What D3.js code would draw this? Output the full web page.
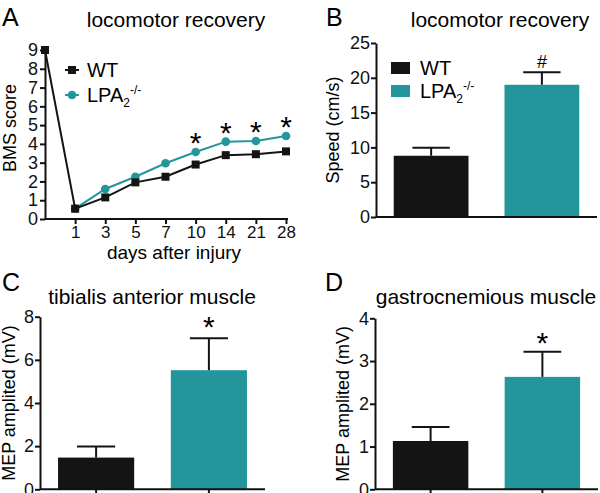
<!DOCTYPE html>
<html>
<head>
<meta charset="utf-8">
<script src="https://cdnjs.cloudflare.com/ajax/libs/d3/7.8.5/d3.min.js"></script>
<style>
  body { margin: 0; background: white; }
  svg { font-family: "Liberation Sans", Arial, sans-serif; }
  .axis path, .axis line { stroke: #111; stroke-width: 2px; }
  .axis text { fill: #111; }
</style>
</head>
<body>
<div id="chart"></div>
<script>
// panel A: BMS score over time
const days = ["0", "1", "3", "5", "7", "10", "14", "21", "28"];
const bmsWT = [9, 0.55, 1.15, 1.95, 2.25, 2.9, 3.4, 3.45, 3.6];
const bmsWTerr = [0, 0.08, 0.15, 0.12, 0.18, 0.15, 0.12, 0.12, 0.12];
const bmsLPA = [9, 0.55, 1.6, 2.25, 2.97, 3.57, 4.12, 4.15, 4.42];
const bmsLPAerr = [0, 0.08, 0.12, 0.12, 0.2, 0.12, 0.12, 0.1, 0.1];
const bmsStars = ["10", "14", "21", "28"];
const bmsTicks = [0, 1, 2, 3, 4, 5, 6, 7, 8, 9];

// panels B-D: two groups each
const groups = ["WT", "LPA"];
const speedMean = [8.8, 19.0];
const speedErr = [1.15, 1.8];
const tibialisMean = [1.47, 5.52];
const tibialisErr = [0.51, 1.48];
const gastroMean = [1.13, 2.63];
const gastroErr = [0.33, 0.59];

const black = "#141414";
const teal = "#22969a";
const colors = [black, teal];

const svg = d3.select("#chart").append("svg")
  .attr("width", 600).attr("height", 493);

// ---------- panel A ----------
const xA = d3.scalePoint().domain(days).range([45, 286]);
const yA = d3.scaleLinear().domain([0, 9]).range([219, 50]);

svg.append("text").attr("x", 2).attr("y", 26).style("font-size", "25px").text("A");
svg.append("text").attr("x", 176).attr("y", 27).attr("text-anchor", "middle")
  .style("font-size", "21px").text("locomotor recovery");

svg.append("g").attr("class", "axis")
  .attr("transform", "translate(45,0)")
  .call(d3.axisLeft(yA).tickValues(bmsTicks).tickSize(5).tickSizeOuter(0).tickPadding(2))
  .selectAll("text").style("font-size", "18px");

const xAxisA = svg.append("g").attr("class", "axis")
  .attr("transform", "translate(0,219)")
  .call(d3.axisBottom(xA).tickValues(days.slice(1)).tickSize(5).tickSizeOuter(0).tickPadding(2));
xAxisA.select(".domain").attr("d", "M45,0H288");
xAxisA.selectAll("text").style("font-size", "17px");

svg.append("text").attr("x", 174).attr("y", 259).attr("text-anchor", "middle")
  .style("font-size", "19px").text("days after injury");

svg.append("text").attr("x", 10).attr("y", 128)
  .attr("transform", "rotate(-90,10,128)").attr("text-anchor", "middle")
  .attr("dy", "0.35em").style("font-size", "18px").text("BMS score");

function drawSeries(vals, errs, color, shape, start) {
  const pts = vals.map((v, i) => ({ day: days[i], v, e: errs[i] })).slice(start);
  const g = svg.append("g");
  g.selectAll("line").data(pts).join("line")
    .attr("x1", d => xA(d.day)).attr("x2", d => xA(d.day))
    .attr("y1", d => yA(d.v - d.e)).attr("y2", d => yA(d.v + d.e))
    .attr("stroke", color).attr("stroke-width", 2);
  g.append("path").datum(pts)
    .attr("d", d3.line().x(d => xA(d.day)).y(d => yA(d.v)))
    .attr("fill", "none").attr("stroke", color).attr("stroke-width", 2);
  if (shape === "square") {
    g.selectAll("rect").data(pts).join("rect")
      .attr("x", d => xA(d.day) - 4).attr("y", d => yA(d.v) - 4)
      .attr("width", 8).attr("height", 8).attr("fill", color);
  } else {
    g.selectAll("circle").data(pts).join("circle")
      .attr("cx", d => xA(d.day)).attr("cy", d => yA(d.v))
      .attr("r", 4.3).attr("fill", color);
  }
}
drawSeries(bmsLPA, bmsLPAerr, teal, "circle", 1);
drawSeries(bmsWT, bmsWTerr, black, "square", 0);

svg.selectAll("text.star").data(bmsStars).join("text").attr("class", "star")
  .attr("x", d => xA(d)).attr("text-anchor", "middle")
  .attr("y", d => { const i = days.indexOf(d); return yA(bmsLPA[i]) + 1; })
  .style("font-size", "30px").text("*");

// legend A
const legA = [{ label: "WT", color: black, shape: "square" }, { label: "LPA", color: teal, shape: "circle" }];
legA.forEach((d, i) => {
  const y = 70 + i * 25;
  svg.append("line").attr("x1", 65).attr("x2", 79).attr("y1", y).attr("y2", y)
    .attr("stroke", d.color).attr("stroke-width", 2);
  if (d.shape === "square") {
    svg.append("rect").attr("x", 68).attr("y", y - 4).attr("width", 8).attr("height", 8).attr("fill", d.color);
  } else {
    svg.append("circle").attr("cx", 72).attr("cy", y).attr("r", 4.3).attr("fill", d.color);
  }
  const t = svg.append("text").attr("x", 87).attr("y", y + 7).style("font-size", "20px");
  if (d.label === "WT") t.text("WT");
  else {
    t.append("tspan").text("LPA");
    t.append("tspan").attr("dy", 5).style("font-size", "12px").text("2");
    t.append("tspan").attr("dy", -13).style("font-size", "12px").text("-/-");
  }
});

// ---------- bar panels ----------
function barPanel(opt) {
  const x = d3.scaleBand().domain(groups).range([opt.x0, opt.x1])
    .paddingInner(0.325).paddingOuter(0.16);
  const y = d3.scaleLinear().domain([0, opt.max]).range([opt.yb, opt.yt]);

  svg.append("text").attr("x", opt.letterX).attr("y", opt.letterY)
    .style("font-size", "25px").text(opt.letter);
  svg.append("text").attr("x", opt.titleX).attr("y", opt.titleY).attr("text-anchor", "middle")
    .style("font-size", "21px").text(opt.title);

  svg.append("g").selectAll("rect").data(opt.mean).join("rect")
    .attr("x", (d, i) => x(groups[i])).attr("width", x.bandwidth())
    .attr("y", d => y(d)).attr("height", d => y(0) - y(d))
    .attr("fill", (d, i) => colors[i]);

  const eg = svg.append("g");
  eg.selectAll("line.v").data(opt.mean).join("line").attr("class", "v")
    .attr("x1", (d, i) => x(groups[i]) + x.bandwidth() / 2)
    .attr("x2", (d, i) => x(groups[i]) + x.bandwidth() / 2)
    .attr("y1", d => y(d)).attr("y2", (d, i) => y(d + opt.err[i]))
    .attr("stroke", black).attr("stroke-width", 2);
  eg.selectAll("line.c").data(opt.mean).join("line").attr("class", "c")
    .attr("x1", (d, i) => x(groups[i]) + x.bandwidth() / 4)
    .attr("x2", (d, i) => x(groups[i]) + x.bandwidth() * 3 / 4)
    .attr("y1", (d, i) => y(d + opt.err[i])).attr("y2", (d, i) => y(d + opt.err[i]))
    .attr("stroke", black).attr("stroke-width", 2);

  svg.append("g").attr("class", "axis")
    .attr("transform", `translate(${opt.x0},0)`)
    .call(d3.axisLeft(y).ticks(opt.ticks).tickSize(5).tickSizeOuter(0).tickPadding(1))
    .selectAll("text").style("font-size", "18px");

  const xa = svg.append("g").attr("class", "axis")
    .attr("transform", `translate(0,${opt.yb})`)
    .call(d3.axisBottom(x).tickSize(opt.xTicks ? 4 : 0).tickSizeOuter(0).tickFormat(""));
  xa.select(".domain").attr("d", `M${opt.x0},0H${opt.x1}`);

  svg.append("text").attr("x", opt.labelX).attr("y", (opt.yb + opt.yt) / 2)
    .attr("transform", `rotate(-90,${opt.labelX},${(opt.yb + opt.yt) / 2})`)
    .attr("text-anchor", "middle").attr("dy", "0.35em")
    .style("font-size", "18px").text(opt.ylabel);

  const i = 1;
  svg.append("text").attr("x", x(groups[i]) + x.bandwidth() / 2)
    .attr("y", y(opt.mean[i] + opt.err[i]) - opt.markOffset)
    .attr("text-anchor", "middle").style("font-size", opt.markSize)
    .text(opt.mark);
  return { x, y };
}

barPanel({
  x0: 376, x1: 597, yb: 217, yt: 43, max: 25, ticks: 5,
  mean: speedMean, err: speedErr, letter: "B", letterX: 326, letterY: 26,
  title: "locomotor recovery", titleX: 500, titleY: 27,
  ylabel: "Speed (cm/s)", labelX: 333, mark: "#", markSize: "18px", markOffset: 4, xTicks: false
});

// legend B
groups.forEach((g, i) => {
  const y = 68 + i * 23;
  svg.append("rect").attr("x", 391).attr("y", y - 6).attr("width", 19).attr("height", 12).attr("fill", colors[i]);
  const t = svg.append("text").attr("x", 420).attr("y", y + 7).style("font-size", "20px");
  if (g === "WT") t.text("WT");
  else {
    t.append("tspan").text("LPA");
    t.append("tspan").attr("dy", 5).style("font-size", "12px").text("2");
    t.append("tspan").attr("dy", -13).style("font-size", "12px").text("-/-");
  }
});

barPanel({
  x0: 40, x1: 265, yb: 489.3, yt: 316.7, max: 8, ticks: 4,
  mean: tibialisMean, err: tibialisErr, letter: "C", letterX: 2, letterY: 291,
  title: "tibialis anterior muscle", titleX: 152, titleY: 304,
  ylabel: "MEP amplited (mV)", labelX: 9, mark: "*", markSize: "30px", markOffset: 1, xTicks: true
});

barPanel({
  x0: 375, x1: 598, yb: 489.3, yt: 318.3, max: 4, ticks: 4,
  mean: gastroMean, err: gastroErr, letter: "D", letterX: 325, letterY: 291,
  title: "gastrocnemious muscle", titleX: 486, titleY: 304,
  ylabel: "MEP amplited (mV)", labelX: 343, mark: "*", markSize: "30px", markOffset: -1, xTicks: true
});
</script>
</body>
</html>
